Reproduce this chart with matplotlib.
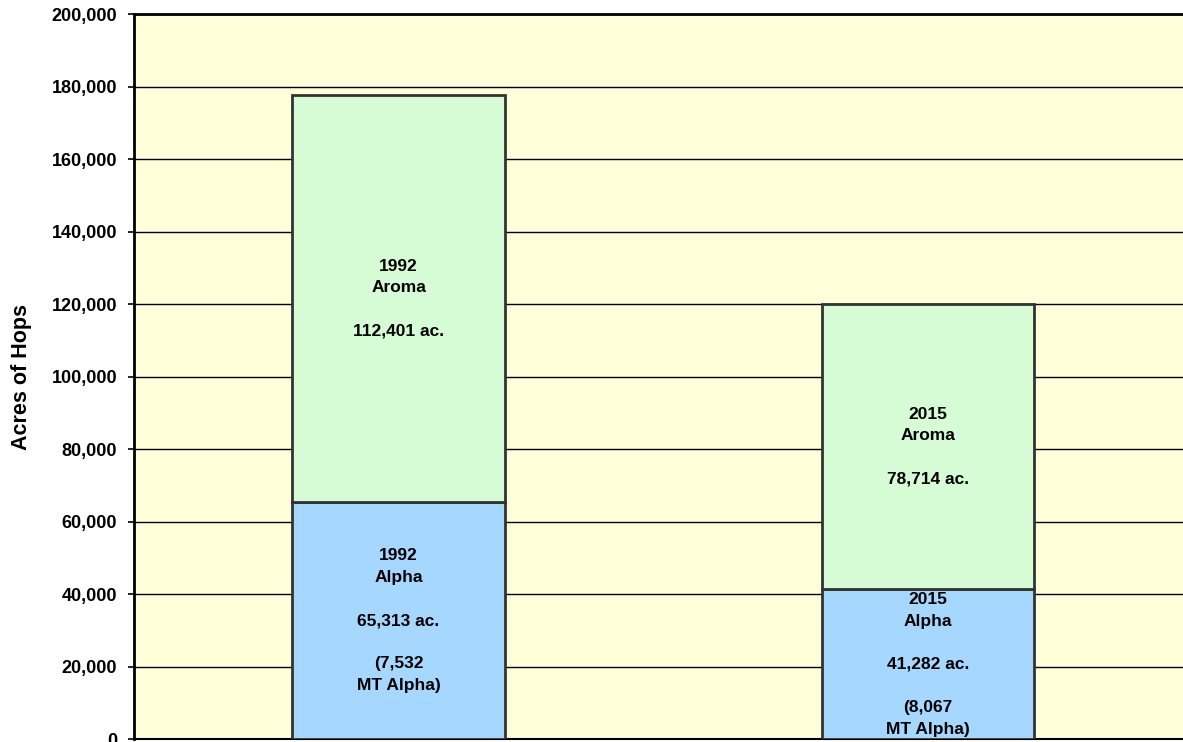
import matplotlib.pyplot as plt
from matplotlib.ticker import FuncFormatter

plt.rcParams['font.family'] = ['Liberation Sans', 'DejaVu Sans']

years = ['1992', '2015']
alpha_acres = [65313, 41282]
aroma_acres = [112401, 78714]
mt_alpha = ['7,532', '8,067']

fig = plt.figure(figsize=(11.83, 7.42), dpi=100)
ax = fig.add_axes([0.1133, 0.004, 0.8867, 0.977])
ax.set_facecolor('#FFFFD9')

x = [0, 1]
ax.bar(x, alpha_acres, width=0.402, color='#A6D7FF', edgecolor='#333333', linewidth=2, zorder=3)
ax.bar(x, aroma_acres, width=0.402, bottom=alpha_acres, color='#D6FCD6',
       edgecolor='#333333', linewidth=2, zorder=3)

for i, yr in enumerate(years):
    a = alpha_acres[i]
    r = aroma_acres[i]
    ax.text(x[i], a / 2, f"{yr}\nAlpha\n\n{a:,} ac.\n\n({mt_alpha[i]}\nMT Alpha)",
            ha='center', va='center', fontsize=12.5, fontweight='bold', linespacing=1.55, zorder=4)
    ax.text(x[i], a + r / 2, f"{yr}\nAroma\n\n{r:,} ac.",
            ha='center', va='center', fontsize=12.5, fontweight='bold', linespacing=1.55, zorder=4)

ax.set_xlim(-0.4995, 1.4815)
ax.set_ylim(0, 200000)
ax.set_yticks(range(0, 200001, 20000))
ax.yaxis.set_major_formatter(FuncFormatter(lambda v, p: f"{int(v):,}"))
ax.grid(axis='y', color='black', linewidth=1, zorder=1)
ax.set_xticks([])
for lbl in ax.get_yticklabels():
    lbl.set_fontweight('bold')
ax.tick_params(axis='y', labelsize=13, length=4, width=1.2, pad=8)
ax.spines['right'].set_visible(False)
ax.spines['top'].set_linewidth(2)
ax.spines['left'].set_linewidth(2)
ax.spines['bottom'].set_linewidth(1.5)
ax.set_ylabel('Acres of Hops', fontsize=15.5, fontweight='bold', labelpad=14)

fig.savefig('out.png', dpi=100)
